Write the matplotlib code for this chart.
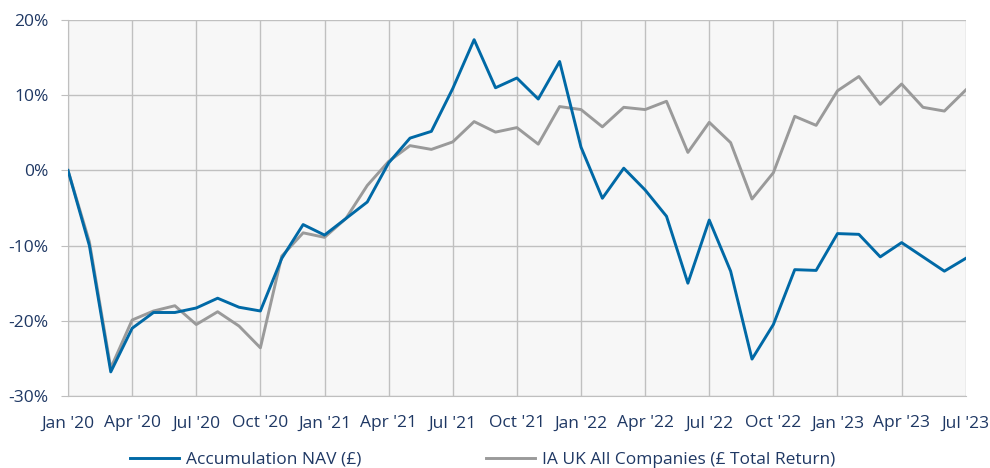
import matplotlib
matplotlib.use("Agg")
import matplotlib.pyplot as plt
import numpy as np

months = ["Jan '20", "Apr '20", "Jul '20", "Oct '20", "Jan '21", "Apr '21", "Jul '21", "Oct '21",
          "Jan '22", "Apr '22", "Jul '22", "Oct '22", "Jan '23", "Apr '23", "Jul '23"]

nav = [0.0, -10.0, -26.8, -21.0, -18.9, -18.9, -18.3, -17.0, -18.2, -18.7,
       -11.7, -7.2, -8.6, -6.4, -4.2, 1.0, 4.3, 5.2, 10.9, 17.4,
       11.0, 12.3, 9.5, 14.5, 3.1, -3.7, 0.3, -2.6, -6.1, -15.0,
       -6.6, -13.4, -25.1, -20.5, -13.2, -13.3, -8.4, -8.5, -11.5, -9.6,
       -11.5, -13.4, -11.7]

sector = [0.0, -9.5, -26.3, -19.9, -18.7, -18.0, -20.5, -18.8, -20.7, -23.6,
          -11.4, -8.3, -8.9, -6.4, -2.0, 1.2, 3.3, 2.8, 3.8, 6.5,
          5.1, 5.7, 3.5, 8.5, 8.1, 5.8, 8.4, 8.1, 9.2, 2.4,
          6.4, 3.7, -3.8, -0.3, 7.2, 6.0, 10.6, 12.5, 8.8, 11.5,
          8.4, 7.9, 10.7]

series_names = ["Accumulation NAV (£)", "IA UK All Companies (£ Total Return)"]

plt.rcParams['font.family'] = ['Open Sans', 'DejaVu Sans']
text_color = '#1F3864'
blue = '#0069A6'
gray = '#9A9A9A'

fig = plt.figure(figsize=(9.9, 4.68), dpi=100)
ax = fig.add_axes([0.0687, 0.154, 0.9068, 0.803])
ax.set_facecolor('#F7F7F7')

x = np.arange(len(nav))
ax.plot(x, nav, color=blue, lw=2.1, label=series_names[0], zorder=3)
ax.plot(x, sector, color=gray, lw=2.1, label=series_names[1], zorder=2)

ax.set_xlim(0, len(nav) - 1)
ax.set_ylim(-30, 20)
ax.set_xticks(np.arange(0, len(nav), 3))
ax.set_xticklabels(months)
yt = np.arange(-30, 21, 10)
ax.set_yticks(yt)
ax.set_yticklabels([f"{v}%" for v in yt])
ax.grid(True, color='#C0C0C0', lw=1.0, zorder=0)
ax.set_axisbelow(True)
for s in ax.spines.values():
    s.set_visible(False)
ax.spines['left'].set_visible(True)
ax.spines['left'].set_color('#BFBFBF')
ax.spines['bottom'].set_visible(True)
ax.spines['bottom'].set_color('#BFBFBF')
ax.tick_params(axis='y', length=5, color='#BFBFBF', labelcolor=text_color, labelsize=12.5, pad=9)
ax.tick_params(axis='x', length=0, labelcolor=text_color, labelsize=12.5, pad=14)

fig.legend(loc='center', bbox_to_anchor=(0.4874, 0.018), ncol=2, frameon=False,
           fontsize=12.5, labelcolor=text_color, handlelength=2.8, handletextpad=0.4,
           columnspacing=7.2, borderpad=0, borderaxespad=0)

fig.savefig('out.png', dpi=100)
